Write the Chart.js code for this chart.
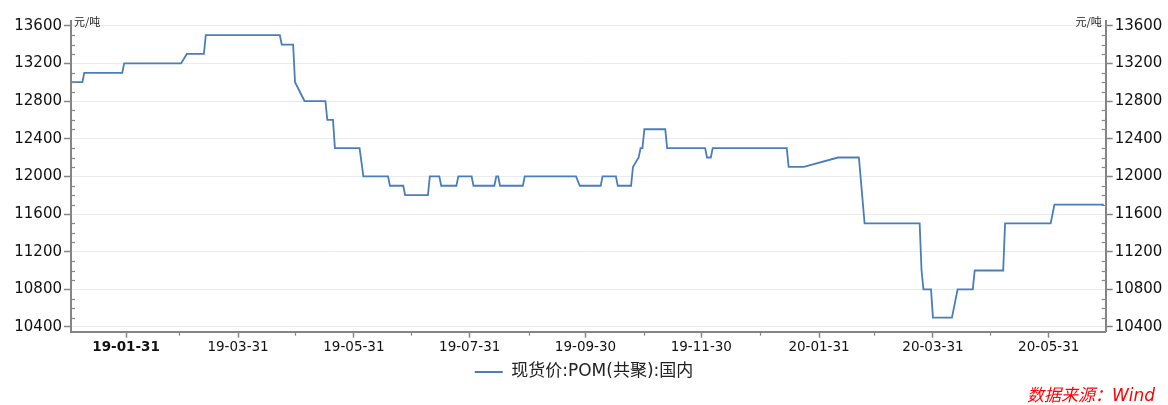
<!DOCTYPE html>
<html>
<head>
<meta charset="utf-8">
<script src="https://cdn.jsdelivr.net/npm/chart.js@4.4.1/dist/chart.umd.min.js"></script>
<style>
html,body{margin:0;padding:0;background:#fff;}
#wrap{position:relative;width:1168px;height:405px;}
</style>
</head>
<body>
<div id="wrap"><canvas id="c" width="1168" height="405"></canvas></div>
<script>
// ---- data ----
const seriesName = '现货价:POM(共聚):国内';
const unitLabel = '元/吨';
const sourceLabel = '数据来源：Wind';

const priceDates = [
  '2019-01-02','2019-01-08','2019-01-09','2019-01-29','2019-01-30','2019-03-01','2019-03-04','2019-03-13',
  '2019-03-14','2019-04-22','2019-04-23','2019-04-29','2019-04-30','2019-05-05','2019-05-16','2019-05-17',
  '2019-05-20','2019-05-21','2019-06-03','2019-06-05','2019-06-18','2019-06-19','2019-06-26','2019-06-27',
  '2019-07-09','2019-07-10','2019-07-15','2019-07-16','2019-07-24','2019-07-25','2019-08-01','2019-08-02',
  '2019-08-13','2019-08-14','2019-08-15','2019-08-16','2019-08-28','2019-08-29','2019-09-25','2019-09-27',
  '2019-10-08','2019-10-09','2019-10-16','2019-10-17','2019-10-24','2019-10-25','2019-10-28','2019-10-29',
  '2019-10-30','2019-10-31','2019-11-11','2019-11-12','2019-12-02','2019-12-03','2019-12-05','2019-12-06',
  '2020-01-14','2020-01-15','2020-01-23','2020-02-10','2020-02-21','2020-02-24','2020-03-24','2020-03-25',
  '2020-03-26','2020-03-30','2020-03-31','2020-04-10','2020-04-13','2020-04-21','2020-04-22','2020-05-07',
  '2020-05-08','2020-06-01','2020-06-03','2020-06-29'
];
const priceValues = [
  13000,13000,13100,13100,13200,13200,13300,13300,
  13500,13500,13400,13400,13000,12800,12800,12600,
  12600,12300,12300,12000,12000,11900,11900,11800,
  11800,12000,12000,11900,11900,12000,12000,11900,
  11900,12000,12000,11900,11900,12000,12000,11900,
  11900,12000,12000,11900,11900,12100,12200,12300,
  12300,12500,12500,12300,12300,12200,12200,12300,
  12300,12100,12100,12200,12200,11500,11500,11000,
  10800,10800,10500,10500,10800,10800,11000,11000,
  11500,11500,11700,11700
];

const xStartDate = '2019-01-02';
const xEndDate = '2020-06-30';
const xTickLabels = ['19-01-31','19-03-31','19-05-31','19-07-31','19-09-30','19-11-30','20-01-31','20-03-31','20-05-31'];
const xMinorTickDates = ['2019-02-28','2019-04-30','2019-06-30','2019-08-31','2019-10-31','2019-12-31','2020-02-29','2020-04-30'];
const yTickValues = [10400,10800,11200,11600,12000,12400,12800,13200,13600];
const yMinorTickValues = [10500,10600,10700,10900,11000,11100,11300,11400,11500,11700,11800,11900,
  12100,12200,12300,12500,12600,12700,12900,13000,13100,13300,13400,13500];
const yMin = 10350, yMax = 13650;

// ---- helpers ----
const lineColor = '#4a7ebb';
const axisColor = '#858585';
function dayOf(s) {
  const p = s.split('-').map(Number);
  return (Date.UTC(p[0], p[1] - 1, p[2]) - Date.UTC(2019, 0, 1)) / 86400000;
}

const decor = {
  id: 'decor',
  afterDraw(chart) {
    const ctx = chart.ctx, ca = chart.chartArea;
    const xs = chart.scales.x, ys = chart.scales.y;
    ctx.save();
    ctx.strokeStyle = axisColor;
    ctx.lineWidth = 1.2;
    yMinorTickValues.forEach(v => {
      const py = Math.round(ys.getPixelForValue(v)) + 0.5;
      ctx.beginPath(); ctx.moveTo(ca.left, py); ctx.lineTo(ca.left + 4, py); ctx.stroke();
      ctx.beginPath(); ctx.moveTo(ca.right, py); ctx.lineTo(ca.right - 4, py); ctx.stroke();
    });
    xMinorTickDates.forEach(d => {
      const px = Math.round(xs.getPixelForValue(dayOf(d))) + 0.5;
      ctx.beginPath(); ctx.moveTo(px, ca.bottom); ctx.lineTo(px, ca.bottom + 4); ctx.stroke();
    });
    ctx.fillStyle = '#222';
    ctx.font = '11px "Noto Sans CJK SC"';
    ctx.textBaseline = 'middle';
    ctx.textAlign = 'left';
    ctx.fillText(unitLabel, ca.left + 3, 22);
    ctx.textAlign = 'right';
    ctx.fillText(unitLabel, ca.right - 4, 22);
    ctx.fillStyle = '#ff0000';
    ctx.font = 'italic 17px "DejaVu Sans", "Noto Sans CJK SC"';
    ctx.textAlign = 'right';
    ctx.fillText(sourceLabel, 1155, 397);
    ctx.restore();
  }
};

const yAxisCommon = (pos) => ({
  type: 'linear',
  position: pos,
  min: yMin,
  max: yMax,
  afterBuildTicks: ax => { ax.ticks = yTickValues.map(v => ({ value: v })); },
  afterFit: ax => { ax.width = pos === 'left' ? 71 : 62.3; },
  ticks: {
    padding: 2,
    color: '#111',
    font: { family: '"DejaVu Sans"', size: 15 },
    callback: v => String(v)
  },
  grid: {
    drawOnChartArea: pos === 'left',
    color: '#ebebeb',
    lineWidth: 1,
    drawTicks: true,
    tickLength: 7,
    tickColor: axisColor,
    tickWidth: 1.5
  },
  border: { display: true, color: axisColor, width: 2 }
});

new Chart(document.getElementById('c'), {
  type: 'line',
  data: {
    datasets: [{
      label: seriesName,
      data: priceDates.map((d, i) => ({ x: dayOf(d), y: priceValues[i] })),
      borderColor: lineColor,
      backgroundColor: lineColor,
      borderWidth: 1.8,
      pointRadius: 0,
      tension: 0,
      fill: false,
      yAxisID: 'y'
    }]
  },
  options: {
    responsive: false,
    animation: false,
    devicePixelRatio: 1,
    layout: { padding: { top: 21, bottom: 14.5, left: 0, right: 0 } },
    scales: {
      x: {
        type: 'linear',
        min: dayOf(xStartDate),
        max: dayOf(xEndDate),
        afterBuildTicks: ax => { ax.ticks = xTickLabels.map(l => ({ value: dayOf('20' + l) })); },
        afterFit: ax => { ax.height = 27.8; },
        ticks: {
          autoSkip: false,
          maxRotation: 0,
          padding: 2,
          color: '#111',
          font: c => ({ family: '"DejaVu Sans"', size: 13.5, weight: c.index === 0 ? 'bold' : 'normal' }),
          callback: (v, i) => xTickLabels[i]
        },
        grid: { drawOnChartArea: false, drawTicks: true, tickLength: 6, tickColor: axisColor, tickWidth: 1.5 },
        border: { display: true, color: axisColor, width: 2 }
      },
      y: yAxisCommon('left'),
      y2: yAxisCommon('right')
    },
    plugins: {
      legend: {
        position: 'bottom',
        labels: {
          usePointStyle: true,
          pointStyle: 'line',
          pointStyleWidth: 28,
          padding: 4,
          color: '#222',
          font: { family: '"DejaVu Sans", "Noto Sans CJK SC"', size: 17 }
        }
      },
      tooltip: { enabled: false }
    }
  },
  plugins: [decor]
});
</script>
</body>
</html>
